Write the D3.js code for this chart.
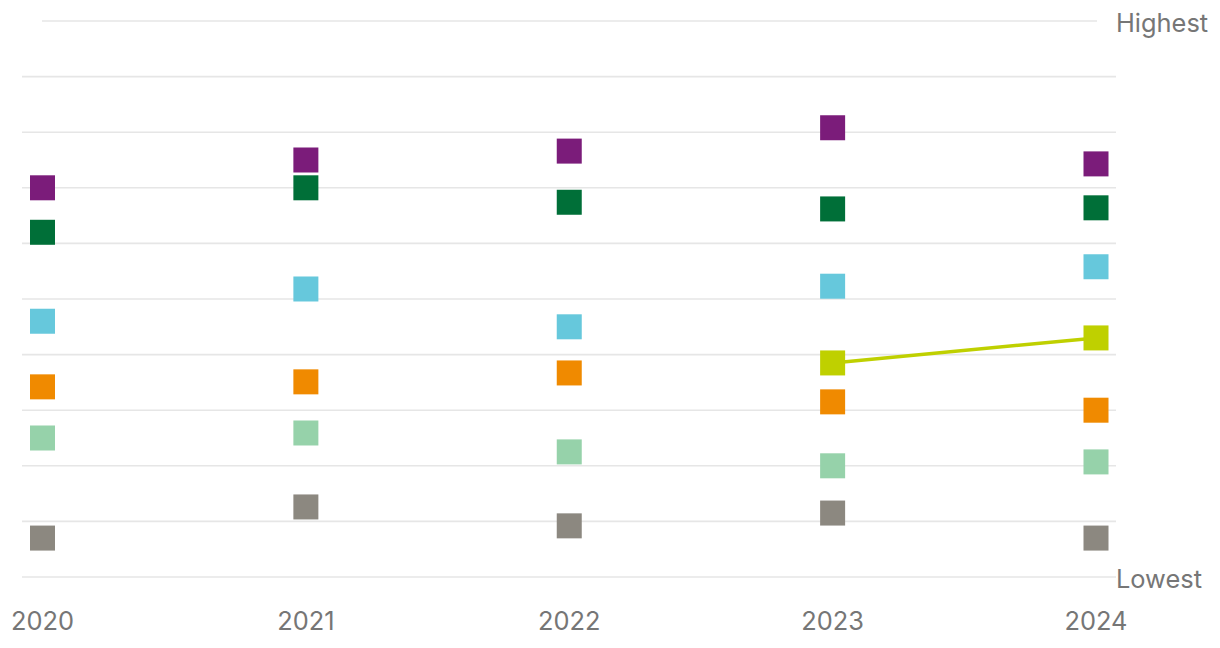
<!DOCTYPE html>
<html><head><meta charset="utf-8">
<script src="https://cdn.jsdelivr.net/npm/d3@7"></script>
<style>body{margin:0;background:#fff}svg{display:block}text{font-family:Inter,"Noto Sans",sans-serif}</style>
</head><body><svg id="c" width="1220" height="648"></svg>
<script>
const years = ["2020","2021","2022","2023","2024"];
const purple = [7.0, 7.5, 7.66, 8.08, 7.43];
const darkGreen = [6.2, 7.0, 6.74, 6.62, 6.64];
const cyan = [4.6, 5.18, 4.5, 5.23, 5.58];
const lime = [null, null, null, 3.85, 4.3];
const orange = [3.42, 3.51, 3.67, 3.15, 3.0];
const lightGreen = [2.5, 2.59, 2.25, 2.0, 2.07];
const grey = [0.7, 1.26, 0.92, 1.15, 0.7];
const gridTicks = [0,1,2,3,4,5,6,7,8,9,10];
const axisLabels = ["Lowest","Highest"];

const series = [
  {values: purple, color: "#7b1c7a"},
  {values: darkGreen, color: "#006f38"},
  {values: cyan, color: "#66c8dc"},
  {values: orange, color: "#f08a00"},
  {values: lightGreen, color: "#96d2aa"},
  {values: grey, color: "#8c8880"},
  {values: lime, color: "#bfd000", line: true}
];

const svg = d3.select("#c");
const x = d3.scalePoint().domain(years).range([42.5, 1096]);
const y = d3.scaleLinear().domain([0, 10]).range([577, 21]);

svg.append("g").selectAll("line").data(gridTicks).join("line")
  .attr("x1", d => d === 10 ? 42 : 22)
  .attr("x2", d => d === 10 ? 1097 : 1116)
  .attr("y1", d => y(d)).attr("y2", d => y(d))
  .attr("stroke", "#e6e6e6").attr("stroke-width", 1.6);

svg.append("g").selectAll("text").data(years).join("text")
  .attr("x", d => x(d)).attr("y", 630)
  .attr("text-anchor", "middle").attr("font-size", 25.4).attr("fill", "#767676")
  .text(d => d);

svg.append("text").attr("x", 1116).attr("y", 32).attr("font-size", 25.4).attr("fill", "#767676").text(axisLabels[1]);
svg.append("text").attr("x", 1116).attr("y", 588).attr("font-size", 25.4).attr("fill", "#767676").text(axisLabels[0]);

const s = 25;
series.forEach(ser => {
  const pts = years.map((yr, i) => ({yr, v: ser.values[i]})).filter(p => p.v != null);
  if (ser.line) {
    svg.append("path").datum(pts)
      .attr("d", d3.line().x(p => x(p.yr)).y(p => y(p.v)))
      .attr("fill", "none").attr("stroke", ser.color).attr("stroke-width", 3.5);
  }
  svg.append("g").selectAll("rect").data(pts).join("rect")
    .attr("x", p => x(p.yr) - s/2).attr("y", p => y(p.v) - s/2)
    .attr("width", s).attr("height", s)
    .attr("fill", ser.color);
});
</script></body></html>
